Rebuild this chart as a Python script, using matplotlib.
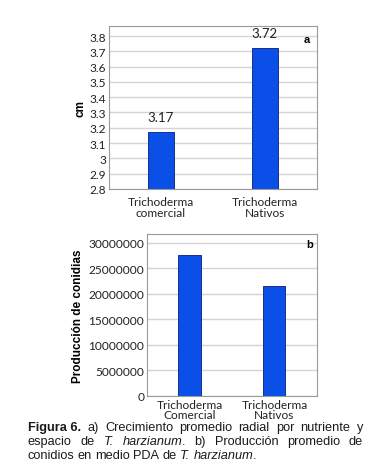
import matplotlib
matplotlib.use('Agg')
import matplotlib.pyplot as plt
import numpy as np

plt.rcParams['font.family'] = ['Lato', 'DejaVu Sans']

# panel a: radial growth (cm)
cats_a = ['Trichoderma\ncomercial', 'Trichoderma\nNativos']
vals_a = [3.17, 3.72]
ticks_a = [2.8, 2.9, 3.0, 3.1, 3.2, 3.3, 3.4, 3.5, 3.6, 3.7, 3.8]
ticklabels_a = ['2.8', '2.9', '3', '3.1', '3.2', '3.3', '3.4', '3.5', '3.6', '3.7', '3.8']

# panel b: conidia production
cats_b = ['Trichoderma\nComercial', 'Trichoderma\nNativos']
vals_b = [27700000, 21500000]
ticks_b = [0, 5000000, 10000000, 15000000, 20000000, 25000000, 30000000]

bar_color = '#0a50e8'
edge_color = '#1a2f8a'

fig = plt.figure(figsize=(3.86, 4.77), dpi=100)

def style(ax):
    for s in ax.spines.values():
        s.set_color('#9a9a9a')
        s.set_linewidth(0.8)
    ax.tick_params(length=0, labelsize=8.6, pad=2, colors='#222222')
    ax.yaxis.grid(True, color='#d4d4d4', linewidth=1.0)
    ax.set_axisbelow(True)
    ax.set_xlim(-0.5, 1.5)

ax1 = fig.add_axes([0.282, 0.602, 0.539, 0.341])
x = np.arange(len(cats_a))
ax1.bar(x, vals_a, width=0.25, color=bar_color, edgecolor=edge_color, linewidth=0.7)
ax1.set_ylim(2.8, 3.865)
ax1.set_yticks(ticks_a)
ax1.set_yticklabels(ticklabels_a)
ax1.set_xticks(x)
ax1.set_xticklabels(cats_a, linespacing=1.0)
style(ax1)
ax1.tick_params(axis='x', pad=5)
ax1.set_ylabel('cm', fontsize=8.5, fontweight='bold', labelpad=2, family=['Liberation Sans'])
for xi, v in zip(x, vals_a):
    ax1.annotate(f'{v:.2f}', (xi, v), xytext=(0, 7), textcoords='offset points',
                 ha='center', va='bottom', fontsize=9.5, color='#222222')
ax1.text(0.965, 0.955, 'a', transform=ax1.transAxes, ha='right', va='top',
         fontsize=8, fontweight='bold', family=['Liberation Sans'])

ax2 = fig.add_axes([0.381, 0.168, 0.440, 0.340])
x = np.arange(len(cats_b))
ax2.bar(x, vals_b, width=0.26, color=bar_color, edgecolor=edge_color, linewidth=0.7)
ax2.set_ylim(0, 31800000)
ax2.set_yticks(ticks_b)
ax2.set_yticklabels([str(t) for t in ticks_b])
ax2.set_xticks(x)
ax2.set_xticklabels(cats_b, linespacing=0.95)
style(ax2)
ax2.set_ylabel('Producción de conidias', fontsize=8.5, fontweight='bold', labelpad=3,
               family=['Liberation Sans'])
ax2.text(0.975, 0.965, 'b', transform=ax2.transAxes, ha='right', va='top',
         fontsize=8, fontweight='bold', family=['Liberation Sans'])

# caption, justified word by word
caption = [
    [('Figura 6.', 'bold', 'normal'), ('a)', 'normal', 'normal'), ('Crecimiento', 'normal', 'normal'),
     ('promedio', 'normal', 'normal'), ('radial', 'normal', 'normal'), ('por', 'normal', 'normal'),
     ('nutriente', 'normal', 'normal'), ('y', 'normal', 'normal')],
    [('espacio', 'normal', 'normal'), ('de', 'normal', 'normal'), ('T.', 'normal', 'italic'),
     ('harzianum', 'normal', 'italic'), ('.', 'normal', 'normal'), ('b)', 'normal', 'normal'),
     ('Producción', 'normal', 'normal'), ('promedio', 'normal', 'normal'), ('de', 'normal', 'normal')],
    [('conidios', 'normal', 'normal'), ('en', 'normal', 'normal'), ('medio', 'normal', 'normal'),
     ('PDA', 'normal', 'normal'), ('de', 'normal', 'normal'), ('T.', 'normal', 'italic'),
     ('harzianum', 'normal', 'italic'), ('.', 'normal', 'normal')],
]
x0, x1 = 28, 363
ys = [428, 442, 456]
W, H = 386, 477
renderer = fig.canvas.get_renderer()
for li, (line, yp) in enumerate(zip(caption, ys)):
    items = []
    for word, wt, st in line:
        t = fig.text(0, 1 - yp / H, word, fontsize=9.2, fontweight=wt, fontstyle=st,
                     va='center', ha='left', color='#1a1a1a', family=['Liberation Sans'])
        w = t.get_window_extent(renderer).width
        items.append((t, w, word))
    # periods glued to previous word
    gaps = [0 if it[2] == '.' else 1 for it in items[1:]]
    total = sum(it[1] for it in items)
    ngap = sum(gaps)
    if li < len(caption) - 1:
        gap = (x1 - x0 - total) / ngap
    else:
        gap = 3.2
    xp = x0
    for i, (t, w, word) in enumerate(items):
        if i > 0:
            xp += gap * gaps[i - 1]
        t.set_x(xp / W)
        xp += w

fig.savefig('out.png', dpi=100)
